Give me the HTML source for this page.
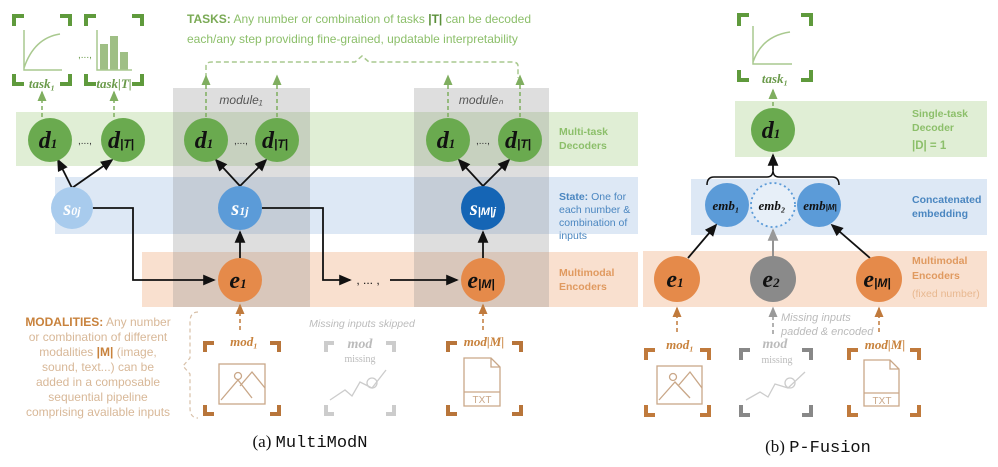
<!DOCTYPE html>
<html><head><meta charset="utf-8"><style>
body{margin:0;background:#fff}
svg{display:block}
.lbl{font-family:"Liberation Sans",sans-serif}
.it{font-family:"Liberation Serif",serif;font-style:italic;font-weight:bold}
</style></head><body>
<svg width="998" height="467" viewBox="0 0 998 467" xmlns="http://www.w3.org/2000/svg">
<defs>
<marker id="ar" markerWidth="8" markerHeight="8" refX="6" refY="4" orient="auto"><path d="M0,1 L7,4 L0,7z" fill="#111"/></marker>
<marker id="ag" markerWidth="8" markerHeight="8" refX="6" refY="4" orient="auto"><path d="M0,1 L7,4 L0,7z" fill="#7fae5f"/></marker>
<marker id="ao" markerWidth="8" markerHeight="8" refX="6" refY="4" orient="auto"><path d="M0,1 L7,4 L0,7z" fill="#c07a3c"/></marker>
<marker id="ay" markerWidth="8" markerHeight="8" refX="6" refY="4" orient="auto"><path d="M0,1 L7,4 L0,7z" fill="#999"/></marker>
</defs>
<rect x="16" y="112" width="622" height="54" fill="#e0eed5"/>
<rect x="55" y="177" width="583" height="57" fill="#dde8f5"/>
<rect x="142" y="252" width="496" height="55" fill="#f9e0cf"/>
<rect x="173" y="88" width="137" height="219" fill="#888" opacity="0.28"/>
<rect x="414" y="88" width="135" height="219" fill="#888" opacity="0.28"/>
<text x="241" y="104" text-anchor="middle" class="lbl" font-style="italic" font-size="12" fill="#555">module₁</text>
<text x="481" y="104" text-anchor="middle" class="lbl" font-style="italic" font-size="12" fill="#555">moduleₙ</text>
<g class="lbl" font-weight="bold" font-size="10.5">
<text x="559" y="135" fill="#8cbf6a">Multi-task</text><text x="559" y="149" fill="#8cbf6a">Decoders</text>
<text x="559" y="200" fill="#4a86c0">State: <tspan font-weight="normal">One for</tspan></text>
<text x="559" y="213" fill="#4a86c0" font-weight="normal">each number &amp;</text>
<text x="559" y="226" fill="#4a86c0" font-weight="normal">combination of</text>
<text x="559" y="239" fill="#4a86c0" font-weight="normal">inputs</text>
<text x="559" y="276" fill="#e09a60">Multimodal</text><text x="559" y="290" fill="#e09a60">Encoders</text>
</g>
<text x="187" y="23" class="lbl" font-size="12" fill="#8cbf6a"><tspan font-weight="bold" fill="#7aaa55">TASKS:</tspan> Any number or combination of tasks <tspan font-weight="bold" fill="#5a8f3a">|T|</tspan> can be decoded</text>
<text x="187" y="43" class="lbl" font-size="12" fill="#8cbf6a">each/any step providing fine-grained, updatable interpretability</text>
<path d="M206,78 V66 Q206,62 212,62 H355 L362,56 L369,62 H512 Q518,62 518,66 V78" fill="none" stroke="#a9c98f" stroke-width="1.5" stroke-dasharray="5,3"/>
<g fill="none" stroke="#5f9a3c" stroke-width="4">
<path d="M14,26 V16 H24 M60,16 H70 V26 M14,74 V84 H24 M60,84 H70 V74"/>
<path d="M86,26 V16 H96 M132,16 H142 V26 M86,74 V84 H96 M132,84 H142 V74"/>
</g>
<path d="M24,30 V70 H62 M24,68 Q34,38 60,34" fill="none" stroke="#a9c98f" stroke-width="1.5"/>
<g fill="#9fbf85"><rect x="100" y="44" width="8" height="26"/><rect x="110" y="36" width="8" height="34"/><rect x="120" y="52" width="8" height="18"/></g>
<path d="M97,30 V70 H132" fill="none" stroke="#a9c98f" stroke-width="1.5"/>
<text x="78" y="58" class="lbl" font-size="10" fill="#6a9a4a">,...,</text>
<text x="42" y="88" class="it" font-size="13" fill="#6a9a4a" text-anchor="middle">task₁</text>
<text x="114" y="88" class="it" font-size="13" fill="#6a9a4a" text-anchor="middle">task|T|</text>
<g stroke="#7fae5f" stroke-width="1.5" stroke-dasharray="4,3" marker-end="url(#ag)">
<line x1="42" y1="117" x2="42" y2="92"/><line x1="114" y1="117" x2="114" y2="92"/>
<line x1="206" y1="117" x2="206" y2="76"/><line x1="277" y1="117" x2="277" y2="76"/>
<line x1="448" y1="117" x2="448" y2="76"/><line x1="520" y1="117" x2="520" y2="76"/>
</g>
<g stroke="#111" stroke-width="1.8" marker-end="url(#ar)" fill="none">
<line x1="72" y1="188" x2="58" y2="160"/><line x1="72" y1="188" x2="112" y2="160"/>
<line x1="240" y1="186" x2="216" y2="160"/><line x1="240" y1="186" x2="266" y2="160"/>
<line x1="483" y1="186" x2="459" y2="160"/><line x1="483" y1="186" x2="509" y2="160"/>
<line x1="240" y1="258" x2="240" y2="232"/><line x1="483" y1="258" x2="483" y2="232"/>
<path d="M92,208 H133 V280 H214"/>
<path d="M262,208 H323 V280 H350"/>
<line x1="390" y1="280" x2="457" y2="280"/>
</g>
<text x="368" y="284" class="lbl" font-size="12" fill="#111" text-anchor="middle">, ... ,</text>
<g fill="#6aaa4f"><circle cx="50" cy="140" r="22"/><circle cx="123" cy="140" r="22"/><circle cx="206" cy="140" r="22"/><circle cx="277" cy="140" r="22"/><circle cx="448" cy="140" r="22"/><circle cx="520" cy="140" r="22"/></g>
<g class="lbl" font-size="10" fill="#333"><text x="78" y="144">,...,</text><text x="234" y="144">,...,</text><text x="476" y="144">,...,</text></g>
<g class="it" font-size="24" fill="#111" text-anchor="middle">
<text x="48" y="148">d<tspan font-size="13">1</tspan></text><text x="121" y="148">d<tspan font-size="12" font-family="Liberation Sans">|T|</tspan></text>
<text x="204" y="148">d<tspan font-size="13">1</tspan></text><text x="275" y="148">d<tspan font-size="12" font-family="Liberation Sans">|T|</tspan></text>
<text x="446" y="148">d<tspan font-size="13">1</tspan></text><text x="518" y="148">d<tspan font-size="12" font-family="Liberation Sans">|T|</tspan></text>
</g>
<circle cx="72" cy="208" r="21" fill="#a8cbed"/><circle cx="240" cy="208" r="22" fill="#5b9bd8"/><circle cx="483" cy="208" r="22" fill="#1565b5"/>
<g class="it" font-size="20" fill="#fff" text-anchor="middle">
<text x="72" y="215">s<tspan font-size="12">0j</tspan></text><text x="240" y="215">s<tspan font-size="12">1j</tspan></text><text x="483" y="215">s<tspan font-size="11" font-family="Liberation Sans">|M|j</tspan></text>
</g>
<circle cx="240" cy="280" r="22" fill="#e58a4a"/><circle cx="483" cy="280" r="22" fill="#e58a4a"/>
<g class="it" font-size="24" fill="#111" text-anchor="middle"><text x="238" y="288">e<tspan font-size="13">1</tspan></text><text x="481" y="288">e<tspan font-size="12" font-family="Liberation Sans">|M|</tspan></text></g>
<g class="lbl" font-size="12" fill="#d8b898" text-anchor="middle">
<text x="98" y="326"><tspan font-weight="bold" fill="#c8823c">MODALITIES:</tspan> Any number</text>
<text x="98" y="341">or combination of different</text>
<text x="98" y="356">modalities <tspan font-weight="bold" fill="#c8823c">|M|</tspan> (image,</text>
<text x="98" y="371">sound, text...) can be</text>
<text x="98" y="386">added in a composable</text>
<text x="98" y="401">sequential pipeline</text>
<text x="98" y="416">comprising available inputs</text>
</g>
<path d="M198,312 Q190,312 190,322 V358 L183,366 L190,374 V408 Q190,418 198,418" fill="none" stroke="#d8c0a8" stroke-width="1.2" stroke-dasharray="4,3"/>
<g stroke="#c07a3c" stroke-width="1.5" stroke-dasharray="4,3" marker-end="url(#ao)"><line x1="240" y1="330" x2="240" y2="305"/><line x1="483" y1="330" x2="483" y2="305"/></g>
<text x="362" y="327" class="lbl" font-style="italic" font-size="10.5" fill="#bbb" text-anchor="middle">Missing inputs skipped</text>
<g fill="none" stroke-width="4">
<path stroke="#b8753a" d="M205,352 V343 H214 M270,343 H279 V352 M205,405 V414 H214 M270,414 H279 V405"/>
<path stroke="#ccc" d="M326,352 V343 H334 M386,343 H394 V352 M326,405 V414 H334 M386,414 H394 V405"/>
<path stroke="#b8753a" d="M448,352 V343 H457 M512,343 H521 V352 M448,405 V414 H457 M512,414 H521 V405"/>
</g>
<text x="244" y="346" class="it" font-size="13" fill="#c8823c" text-anchor="middle">mod₁</text>
<text x="484" y="346" class="it" font-size="13" fill="#c8823c" text-anchor="middle">mod|M|</text>
<text x="360" y="348" class="it" font-size="14" fill="#bbb" text-anchor="middle">mod</text>
<text x="360" y="362" font-family="Liberation Serif" font-size="10" fill="#bbb" text-anchor="middle">missing</text>
<g fill="none" stroke="#c9a788" stroke-width="1.3">
<rect x="219" y="364" width="46" height="40"/><path d="M221,400 L238,380 L252,398 M240,386 L252,372 L265,388"/><circle cx="238" cy="376" r="3.5"/>
<path d="M464,358 H491 L500,367 V406 H464 Z M491,358 V367 H500 M464,392 H500"/>
</g>
<text x="482" y="403" class="lbl" font-size="10" fill="#c9a788" text-anchor="middle">TXT</text>
<path d="M330,400 L345,390 L352,396 L360,382 L372,388 L386,370" fill="none" stroke="#ccc" stroke-width="1.3"/><circle cx="372" cy="383" r="5" fill="none" stroke="#ccc" stroke-width="1.3"/>
<text x="310" y="447" font-family="Liberation Serif" font-size="17" fill="#111" text-anchor="middle">(a) <tspan font-family="Liberation Mono">MultiModN</tspan></text>

<rect x="735" y="101" width="252" height="56" fill="#e0eed5"/>
<rect x="691" y="179" width="296" height="56" fill="#dde8f5"/>
<rect x="643" y="251" width="344" height="56" fill="#f9e0cf"/>
<g class="lbl" font-weight="bold" font-size="10.5">
<text x="912" y="117" fill="#8cbf6a">Single-task</text><text x="912" y="131" fill="#8cbf6a">Decoder</text>
<text x="912" y="149" fill="#8cbf6a" font-size="11.5">|D| = 1</text>
<text x="912" y="203" fill="#4a86c0">Concatenated</text><text x="912" y="217" fill="#4a86c0">embedding</text>
<text x="912" y="264" fill="#e09a60">Multimodal</text><text x="912" y="279" fill="#e09a60">Encoders</text>
<text x="912" y="297" fill="#e8b890" font-weight="normal">(fixed number)</text>
</g>
<g fill="none" stroke="#5f9a3c" stroke-width="4"><path d="M739,26 V15 H749 M801,15 H811 V26 M739,70 V80 H749 M801,80 H811 V70"/></g>
<path d="M753,26 V64 H792 M753,62 Q762,36 790,32" fill="none" stroke="#a9c98f" stroke-width="1.5"/>
<text x="775" y="83" class="it" font-size="13" fill="#6a9a4a" text-anchor="middle">task₁</text>
<line x1="773" y1="106" x2="773" y2="90" stroke="#7fae5f" stroke-width="1.5" stroke-dasharray="4,3" marker-end="url(#ag)"/>
<circle cx="773" cy="130" r="22" fill="#6aaa4f"/>
<text x="771" y="138" class="it" font-size="24" fill="#111" text-anchor="middle">d<tspan font-size="13">1</tspan></text>
<path d="M707,185 Q707,177 714,177 H767 Q773,177 773,170 Q773,177 779,177 H832 Q839,177 839,185" fill="none" stroke="#111" stroke-width="1.5"/>
<line x1="773" y1="170" x2="773" y2="155" stroke="#111" stroke-width="1.8" marker-end="url(#ar)"/>
<circle cx="773" cy="205" r="22" fill="#fff" fill-opacity="0.3" stroke="#5b9bd8" stroke-width="1.8" stroke-dasharray="2,3"/>
<circle cx="727" cy="205" r="22" fill="#5b9bd8"/><circle cx="819" cy="205" r="22" fill="#5b9bd8"/>
<g class="it" font-size="13" fill="#111" text-anchor="middle"><text x="726" y="210">emb₁</text><text x="772" y="210">emb₂</text><text x="820" y="210">emb<tspan font-size="8" font-family="Liberation Sans">|M|</tspan></text></g>
<g stroke="#111" stroke-width="1.8" marker-end="url(#ar)"><line x1="688" y1="258" x2="716" y2="225"/><line x1="870" y1="258" x2="832" y2="225"/></g>
<line x1="773" y1="256" x2="773" y2="230" stroke="#888" stroke-width="1.8" marker-end="url(#ay)"/>
<circle cx="677" cy="279" r="23" fill="#e58a4a"/><circle cx="773" cy="279" r="23" fill="#8a8a8a"/><circle cx="879" cy="279" r="23" fill="#e58a4a"/>
<g class="it" font-size="24" fill="#111" text-anchor="middle"><text x="675" y="287">e<tspan font-size="13">1</tspan></text><text x="771" y="287">e<tspan font-size="13">2</tspan></text><text x="877" y="287">e<tspan font-size="12" font-family="Liberation Sans">|M|</tspan></text></g>
<g stroke-width="1.5" stroke-dasharray="4,3"><line x1="677" y1="332" x2="677" y2="308" stroke="#c07a3c" marker-end="url(#ao)"/><line x1="879" y1="332" x2="879" y2="308" stroke="#c07a3c" marker-end="url(#ao)"/><line x1="773" y1="334" x2="773" y2="308" stroke="#999" marker-end="url(#ay)"/></g>
<text x="781" y="321" class="lbl" font-style="italic" font-size="11" fill="#bbb">Missing inputs</text>
<text x="781" y="335" class="lbl" font-style="italic" font-size="11" fill="#bbb">padded &amp; encoded</text>
<g fill="none" stroke-width="4">
<path stroke="#c07a3c" d="M646,360 V350 H655 M700,350 H709 V360 M646,405 V415 H655 M700,415 H709 V405"/>
<path stroke="#888" d="M741,360 V350 H750 M802,350 H811 V360 M741,405 V415 H750 M802,415 H811 V405"/>
<path stroke="#c07a3c" d="M849,360 V350 H858 M910,350 H919 V360 M849,405 V415 H858 M910,415 H919 V405"/>
</g>
<text x="680" y="349" class="it" font-size="13" fill="#c8823c" text-anchor="middle">mod₁</text>
<text x="885" y="349" class="it" font-size="13" fill="#c8823c" text-anchor="middle">mod|M|</text>
<text x="775" y="348" class="it" font-size="14" fill="#bbb" text-anchor="middle">mod</text>
<text x="777" y="363" font-family="Liberation Serif" font-size="10" fill="#bbb" text-anchor="middle">missing</text>
<g fill="none" stroke="#c9a788" stroke-width="1.3">
<rect x="657" y="366" width="45" height="38"/><path d="M659,400 L675,382 L690,398 M678,386 L690,372 L702,388"/><circle cx="673" cy="377" r="3.5"/>
<path d="M864,360 H890 L899,369 V406 H864 Z M890,360 V369 H899 M864,393 H899"/>
</g>
<text x="882" y="404" class="lbl" font-size="10" fill="#c9a788" text-anchor="middle">TXT</text>
<path d="M746,400 L760,392 L768,397 L775,384 L788,388 L805,372" fill="none" stroke="#ccc" stroke-width="1.3"/><circle cx="790" cy="383" r="5" fill="none" stroke="#ccc" stroke-width="1.3"/>
<text x="818" y="452" font-family="Liberation Serif" font-size="17" fill="#111" text-anchor="middle">(b) <tspan font-family="Liberation Mono">P-Fusion</tspan></text>
</svg>
</body></html>
